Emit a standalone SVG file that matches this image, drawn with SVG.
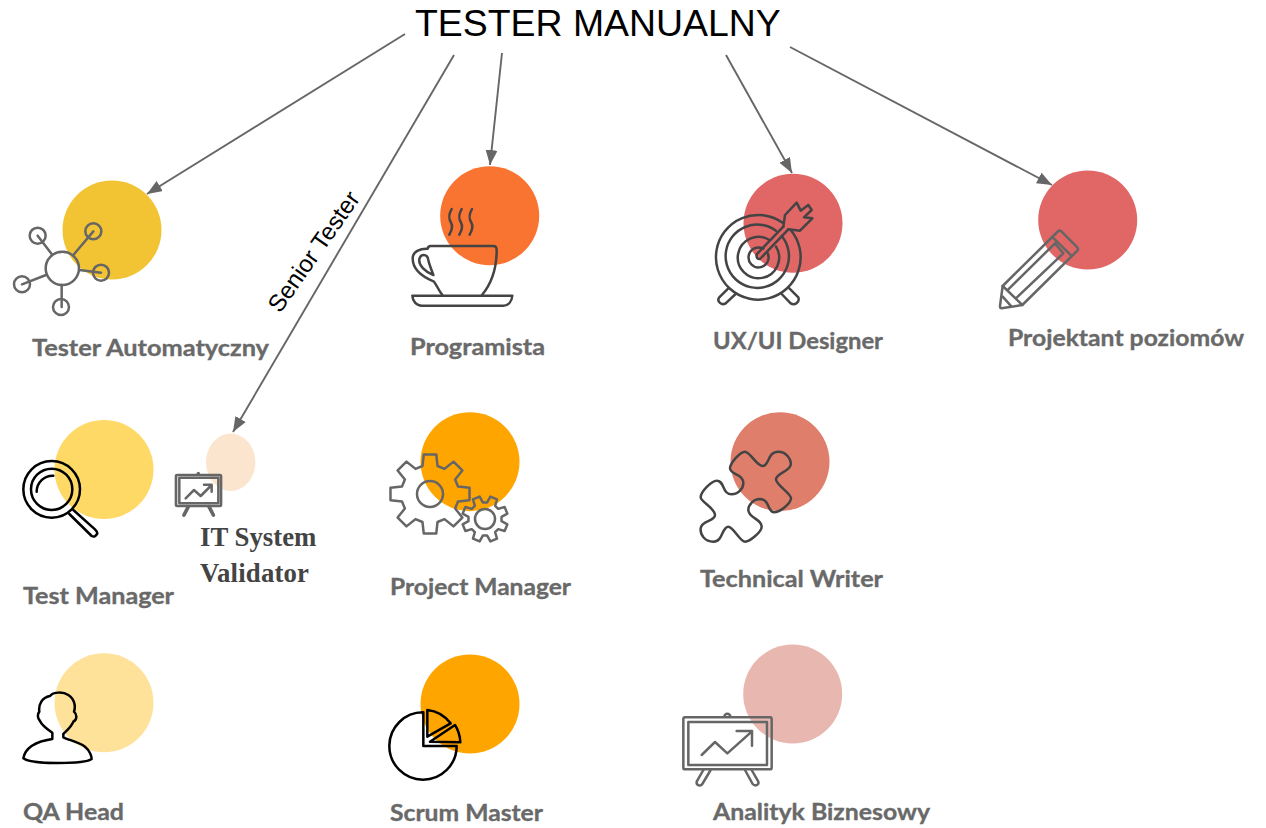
<svg xmlns="http://www.w3.org/2000/svg" width="1266" height="828" viewBox="0 0 1266 828">
<style>
.lbl{font-family:"Lato","Noto Sans","Liberation Sans",sans-serif;font-weight:700;font-size:23.5px;fill:#696969;stroke:#696969;stroke-width:.35}
.ico{fill:none;stroke-width:7.5;stroke-linejoin:round;stroke-linecap:round}
.g6{stroke:#666}.g4{stroke:#444}.bk{stroke:#000}
.conn{stroke:#666;stroke-width:1.9;fill:none;marker-end:url(#ah)}
.ser{font-family:"Liberation Serif",serif;font-weight:700;font-size:26.8px;fill:#444}
.ttl{font-family:"Liberation Sans",Arial,sans-serif;fill:#000}
.gear{fill:none;stroke:#666;stroke-width:2.5;stroke-linejoin:round;vector-effect:non-scaling-stroke}
</style>
<defs>
<marker id="ah" markerUnits="userSpaceOnUse" markerWidth="16" markerHeight="13" refX="15" refY="6" orient="auto"><path d="M0 0L15 6L0 12Z" fill="#666"/></marker>
<path id="gearShape" class="gear" d="M-.188-.7L-.156-.988L.156-.988L.188-.7L.3625-.628L.588-.809L.809-.588L.628-.3625L.7-.188L.988-.156L.988.156L.7.188L.628.3625L.809.588L.588.809L.3625.628L.188.7L.156.988L-.156.988L-.188.7L-.3625.628L-.588.809L-.809.588L-.628.3625L-.7.188L-.988.156L-.988-.156L-.7-.188L-.628-.3625L-.809-.588L-.588-.809L-.3625-.628Z"/>
</defs>
<g id="title"><text class="ttl" x="415" y="36" font-size="37.4">TESTER MANUALNY</text></g>
<g id="connectors">
<line class="conn" x1="405" y1="34" x2="147" y2="194"/>
<line class="conn" x1="454" y1="55" x2="233" y2="432"/>
<line class="conn" x1="502" y1="53" x2="490" y2="165"/>
<line class="conn" x1="726" y1="55" x2="792" y2="173"/>
<line class="conn" x1="790" y1="47" x2="1052" y2="185"/>
<text class="ttl" font-size="24" transform="translate(280 314) rotate(-55)">Senior Tester</text>
</g>
<g id="tester-automatyczny">
<circle cx="112" cy="230" r="49.5" fill="#F2C433"/>
<g class="ico g6" transform="scale(.33333) translate(0 510)">
<circle cx="187" cy="295" r="50"/><circle cx="113" cy="197" r="24"/><circle cx="280" cy="184" r="24"/><circle cx="303" cy="308" r="24"/><circle cx="66" cy="343" r="24"/><circle cx="183" cy="411" r="24"/>
<path d="M155 252L113 197M220 255L280 184M238 300L303 308M138 315L66 343M185 345L185 411"/>
</g>
<text class="lbl" x="32" y="356" textLength="237" lengthAdjust="spacingAndGlyphs">Tester Automatyczny</text>
</g>
<g id="programista">
<circle cx="489.7" cy="215.7" r="49.5" fill="#F97331"/>
<g class="ico g4" transform="translate(390 160) scale(.33333)">
<path id="steam" d="M185 147C175 165 175 175 183 188C190 200 185 212 178 224M215 147C205 165 205 175 213 188C220 200 215 212 208 224M246 147C236 165 236 175 244 188C251 200 246 212 239 224"/>
<path d="M113 266C114 260 116 258 122 258L310 258C318 258 320 262 320 270C320 320 305 370 276 405M157 405C145 390 140 375 132 365C100 352 68 330 68 295C68 275 90 265 113 266"/>
<path d="M130 345C105 335 85 315 88 298C92 280 112 280 115 300C118 315 125 330 130 345Z"/>
<path d="M67 407L367 407C365 425 355 437 340 437L95 437C80 437 68 425 67 407Z"/>
</g>
<text class="lbl" x="410" y="355" textLength="135" lengthAdjust="spacingAndGlyphs">Programista</text>
</g>
<g id="ux-ui-designer">
<circle cx="793" cy="223.3" r="49.5" fill="#E16666"/>
<g class="ico g4" transform="translate(700 160) scale(.33333)">
<path d="M272 210A127 127 0 1 1 248 188M245 228A95 95 0 1 1 228 212M228 260A62 62 0 1 1 208 240M203 280A30 30 0 1 1 190 266"/>
<path d="M250 200L170 283Q168 298 180 297L265 208"/>
<path d="M250 200L255 165L290 128L302 152L325 135L335 150L312 172L337 175L300 212L265 208"/>
<path d="M85 385L57 413C50 425 65 437 77 430L107 402M245 402L272 430C285 438 300 425 295 412L268 385"/>
</g>
<text class="lbl" x="713" y="349" textLength="170" lengthAdjust="spacingAndGlyphs">UX/UI Designer</text>
</g>
<g id="projektant-poziomow">
<circle cx="1087.7" cy="220" r="49.5" fill="#E16666"/>
<g class="ico g6" transform="translate(990 160) scale(.33333)">
<path d="M38 378L205 213Q210 210 215 215L262 262Q266 268 262 272L97 435L35 445Q30 445 30 438Z"/>
<path d="M188 232L245 288M195 250L55 388M220 280L80 413M195 250L220 280M38 378L97 435M38 410L62 437"/>
</g>
<text class="lbl" x="1008" y="346" textLength="236" lengthAdjust="spacingAndGlyphs">Projektant poziomów</text>
</g>
<g id="test-manager">
<circle cx="104" cy="469.5" r="49.5" fill="#FFD966"/>
<g class="ico bk" transform="translate(10 410) scale(.33333)">
<circle cx="125" cy="238" r="85"/><circle cx="125" cy="238" r="62"/>
<path d="M80 245A48 48 0 0 1 130 197"/>
<path d="M178 312L245 378Q255 384 262 370Q262 365 255 358L190 300"/>
</g>
<text class="lbl" x="23" y="604" textLength="151" lengthAdjust="spacingAndGlyphs">Test Manager</text>
</g>
<g id="it-system-validator">
<ellipse cx="230.7" cy="462.3" rx="24.7" ry="28.7" fill="#FBE5CE"/>
<g class="ico g6" transform="translate(10 410) scale(.33333)">
<rect x="498" y="195" width="135" height="93" rx="3" stroke-width="8"/>
<rect x="508" y="203" width="117" height="77"/>
<path d="M565 190L565 193" stroke-width="10"/>
<path d="M535 290L522 315M597 290L610 315" stroke-width="11"/>
<path d="M527 265L552 240L572 258L605 225M582 224L605 224L605 245"/>
</g>
<text class="ser" x="200" y="546">IT System</text>
<text class="ser" x="200" y="582" textLength="109">Validator</text>
</g>
<g id="project-manager">
<circle cx="470" cy="461.7" r="49.5" fill="#FFA500"/>
<use href="#gearShape" transform="translate(430 494) scale(40)"/>
<circle cx="430" cy="494" r="13" fill="none" stroke="#666" stroke-width="2.5"/>
<use href="#gearShape" transform="translate(485 519) rotate(22.5) scale(23)"/>
<circle cx="485" cy="519" r="10" fill="none" stroke="#666" stroke-width="2.5"/>
<text class="lbl" x="390" y="595" textLength="181" lengthAdjust="spacingAndGlyphs">Project Manager</text>
</g>
<g id="technical-writer">
<circle cx="780" cy="461.7" r="49.5" fill="#DF7F6B"/>
<g class="ico g4" transform="translate(690 400) scale(.33333)">
<path d="M165 155C180 155 200 198 218 198C238 198 232 155 265 155C290 155 305 180 302 195C298 215 258 220 258 238C258 255 303 280 303 295C303 310 270 337 252 337C232 337 240 298 210 297C190 297 175 315 175 330C175 355 215 355 215 380C215 395 180 425 165 425C150 425 130 380 115 380C95 380 100 425 70 425C45 425 30 405 32 385C35 360 75 365 75 345C75 325 32 305 32 292C32 275 65 242 80 242C105 242 95 283 125 283C145 283 160 265 160 250C160 220 120 225 120 205C120 190 150 155 165 155Z"/>
</g>
<text class="lbl" x="700" y="587" textLength="183" lengthAdjust="spacingAndGlyphs">Technical Writer</text>
</g>
<g id="qa-head">
<circle cx="104" cy="702.7" r="49.5" fill="#FFE299"/>
<g class="ico bk" transform="translate(10 640) scale(.33333)">
<path d="M127 278C115 270 95 255 90 243C82 235 82 222 88 215C85 195 95 172 120 168C130 155 160 155 175 165C195 178 197 200 192 215C203 225 200 240 190 245C185 260 170 272 160 282L160 292C175 300 205 305 225 320C240 332 245 350 245 357C225 372 65 375 40 355C45 325 75 305 127 297Z"/>
</g>
<text class="lbl" x="23" y="820" textLength="101" lengthAdjust="spacingAndGlyphs">QA Head</text>
</g>
<g id="scrum-master">
<circle cx="470" cy="704" r="49.5" fill="#FFA500"/>
<g class="ico bk" transform="translate(380 650) scale(.33333)">
<path d="M130 187A101 101 0 1 0 230 288L130 288Z"/>
<path d="M142 180C170 183 195 198 212 220L142 260Z"/>
<path d="M225 225C235 240 240 258 241 277L150 275Z"/>
</g>
<text class="lbl" x="390" y="821" textLength="153" lengthAdjust="spacingAndGlyphs">Scrum Master</text>
</g>
<g id="analityk-biznesowy">
<circle cx="792.7" cy="694" r="49.5" fill="#E8B8B0"/>
<g class="ico g6" transform="translate(670 640) scale(.33333)">
<rect x="40" y="232" width="265" height="156" rx="5"/>
<rect x="55" y="246" width="236" height="129"/>
<path d="M163 230A9 9 0 1 1 181 230"/>
<path d="M100 390L80 425C78 437 92 440 97 432L122 390M225 390L248 432C255 440 268 435 265 425L245 390"/>
<path d="M95 345L135 306L172 340L245 275M200 273L246 273L246 317"/>
</g>
<text class="lbl" x="713" y="820" textLength="217" lengthAdjust="spacingAndGlyphs">Analityk Biznesowy</text>
</g>
</svg>
